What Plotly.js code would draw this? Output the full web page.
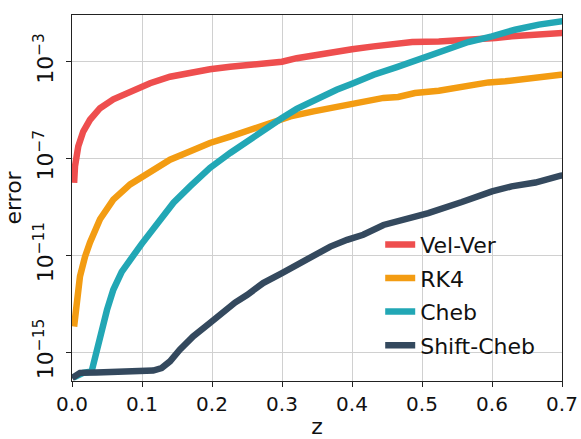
<!DOCTYPE html>
<html>
<head>
<meta charset="utf-8">
<script src="https://cdn.plot.ly/plotly-3.0.1.min.js"></script>
<style>html,body{margin:0;padding:0;background:#fff;}#chart{width:581px;height:439px;}</style>
</head>
<body>
<div id="chart"></div>
<script>
const seriesNames = ["Vel-Ver", "RK4", "Cheb", "Shift-Cheb"];
const seriesColors = ["#ee4e4e", "#f39c12", "#22a7b5", "#34495e"];

const velVerX = [0.003, 0.0043, 0.009, 0.016, 0.0257, 0.040, 0.059, 0.083, 0.1115, 0.140, 0.169, 0.197, 0.226, 0.254, 0.283, 0.300, 0.321, 0.350, 0.369, 0.400, 0.431, 0.464, 0.486, 0.524, 0.557, 0.586, 0.605, 0.628, 0.662, 0.698, 0.71];
const velVerY = [1.0e-8, 4.8e-8, 3.2e-7, 1.3e-6, 4.0e-6, 1.2e-5, 2.8e-5, 5.9e-5, 1.3e-4, 2.4e-4, 3.5e-4, 4.9e-4, 6.2e-4, 7.1e-4, 8.1e-4, 1.0e-3, 1.4e-3, 1.9e-3, 2.7e-3, 3.3e-3, 4.3e-3, 5.5e-3, 6.5e-3, 6.8e-3, 7.4e-3, 8.1e-3, 9.5e-3, 1.12e-2, 1.38e-2, 1.55e-2, 1.6e-2];

const rk4X = [0.003, 0.0067, 0.0114, 0.0186, 0.0257, 0.040, 0.059, 0.083, 0.1115, 0.140, 0.169, 0.197, 0.226, 0.254, 0.283, 0.312, 0.345, 0.369, 0.397, 0.426, 0.445, 0.466, 0.490, 0.524, 0.557, 0.595, 0.619, 0.652, 0.681, 0.698, 0.71];
const rk4Y = [1.15e-14, 1.5e-13, 1.35e-12, 8.9e-12, 3.4e-11, 3.1e-10, 2.0e-9, 8.5e-9, 3.0e-8, 8.9e-8, 2.0e-7, 4.4e-7, 8.1e-7, 1.55e-6, 3.1e-6, 5.5e-6, 8.9e-6, 1.23e-5, 1.66e-5, 2.3e-5, 3.2e-5, 3.5e-5, 5.1e-5, 6.3e-5, 9.5e-5, 1.4e-4, 1.55e-4, 2.1e-4, 2.7e-4, 2.9e-4, 3.0e-4];

const chebX = [0.002, 0.016, 0.028, 0.035, 0.042, 0.050, 0.059, 0.071, 0.0996, 0.121, 0.145, 0.169, 0.197, 0.226, 0.254, 0.283, 0.300, 0.321, 0.350, 0.378, 0.400, 0.431, 0.464, 0.500, 0.533, 0.566, 0.600, 0.633, 0.667, 0.698, 0.71];
const chebY = [8.9e-17, 1.4e-16, 1.6e-16, 1.26e-15, 8.5e-15, 5.6e-14, 3.8e-13, 2.1e-12, 3.0e-11, 1.9e-10, 1.5e-9, 7.2e-9, 4.1e-8, 1.7e-7, 6.0e-7, 2.5e-6, 4.7e-6, 1.12e-5, 2.9e-5, 6.9e-5, 1.23e-4, 2.9e-4, 6.0e-4, 1.4e-3, 3.2e-3, 6.5e-3, 1.12e-2, 2.1e-2, 3.4e-2, 4.7e-2, 5.2e-2];

const shiftChebX = [0.0, 0.0114, 0.035, 0.0686, 0.0925, 0.116, 0.128, 0.140, 0.154, 0.173, 0.197, 0.216, 0.233, 0.250, 0.273, 0.300, 0.321, 0.350, 0.369, 0.393, 0.416, 0.445, 0.466, 0.509, 0.557, 0.600, 0.628, 0.662, 0.698, 0.71];
const shiftChebY = [8.5e-17, 1.4e-16, 1.45e-16, 1.6e-16, 1.5e-16, 1.75e-16, 2.2e-16, 4.2e-16, 1.26e-15, 4.5e-15, 1.6e-14, 4.8e-14, 1.12e-13, 2.3e-13, 7.2e-13, 1.86e-12, 4.1e-12, 1.05e-11, 2.3e-11, 4.4e-11, 7.1e-11, 1.8e-10, 2.5e-10, 5.6e-10, 1.6e-9, 4.4e-9, 7.1e-9, 1.02e-8, 1.95e-8, 2.1e-8];

const yTickVals = [1e-15, 1e-11, 1e-7, 1e-3];
const yTickText = ["10<sup>−15</sup>", "10<sup>−11</sup>", "10<sup>−7</sup>", "10<sup>−3</sup>"];
const xTickVals = [0.0, 0.1, 0.2, 0.3, 0.4, 0.5, 0.6, 0.7];
const xTickText = ["0.0", "0.1", "0.2", "0.3", "0.4", "0.5", "0.6", "0.7"];

const xs = [velVerX, rk4X, chebX, shiftChebX];
const ys = [velVerY, rk4Y, chebY, shiftChebY];

const traces = seriesNames.map((name, i) => ({
  x: xs[i], y: ys[i], name: name, type: "scatter", mode: "lines",
  legendgroup: "g" + i,
  line: {color: seriesColors[i], width: 6.5}
}));

const tickFont = {family: "DejaVu Sans", size: 20, color: "#111"};
const bigFont = {family: "DejaVu Sans", size: 22, color: "#111"};

const layout = {
  width: 581, height: 439,
  margin: {l: 72, r: 19, t: 15, b: 58, pad: 0},
  paper_bgcolor: "#fff", plot_bgcolor: "#fff",
  font: tickFont,
  showlegend: true,
  legend: {x: 0.629, y: 0.43, xanchor: "left", yanchor: "top", bgcolor: "rgba(0,0,0,0)",
           font: bigFont, tracegroupgap: 2, itemwidth: 30},
  xaxis: {
    range: [0, 0.7], tickvals: xTickVals, ticktext: xTickText,
    tickfont: tickFont,
    showgrid: true, gridcolor: "#d0d0d0", gridwidth: 1,
    showline: true, linecolor: "#222", linewidth: 1, mirror: true,
    ticks: "outside", ticklen: 5, tickcolor: "#222", zeroline: false,
    title: {text: "z", font: bigFont, standoff: 4}
  },
  yaxis: {
    type: "log", range: [-16.19, -1.07], tickvals: yTickVals, ticktext: yTickText,
    tickangle: -90, tickfont: bigFont, ticklabelstandoff: 4,
    showgrid: true, gridcolor: "#d0d0d0", gridwidth: 1,
    showline: true, linecolor: "#222", linewidth: 1, mirror: true,
    ticks: "outside", ticklen: 5, tickcolor: "#222", zeroline: false,
    title: {text: "error", font: bigFont, standoff: 2}
  }
};

Plotly.newPlot("chart", traces, layout, {displayModeBar: false, staticPlot: true});
</script>
</body>
</html>
